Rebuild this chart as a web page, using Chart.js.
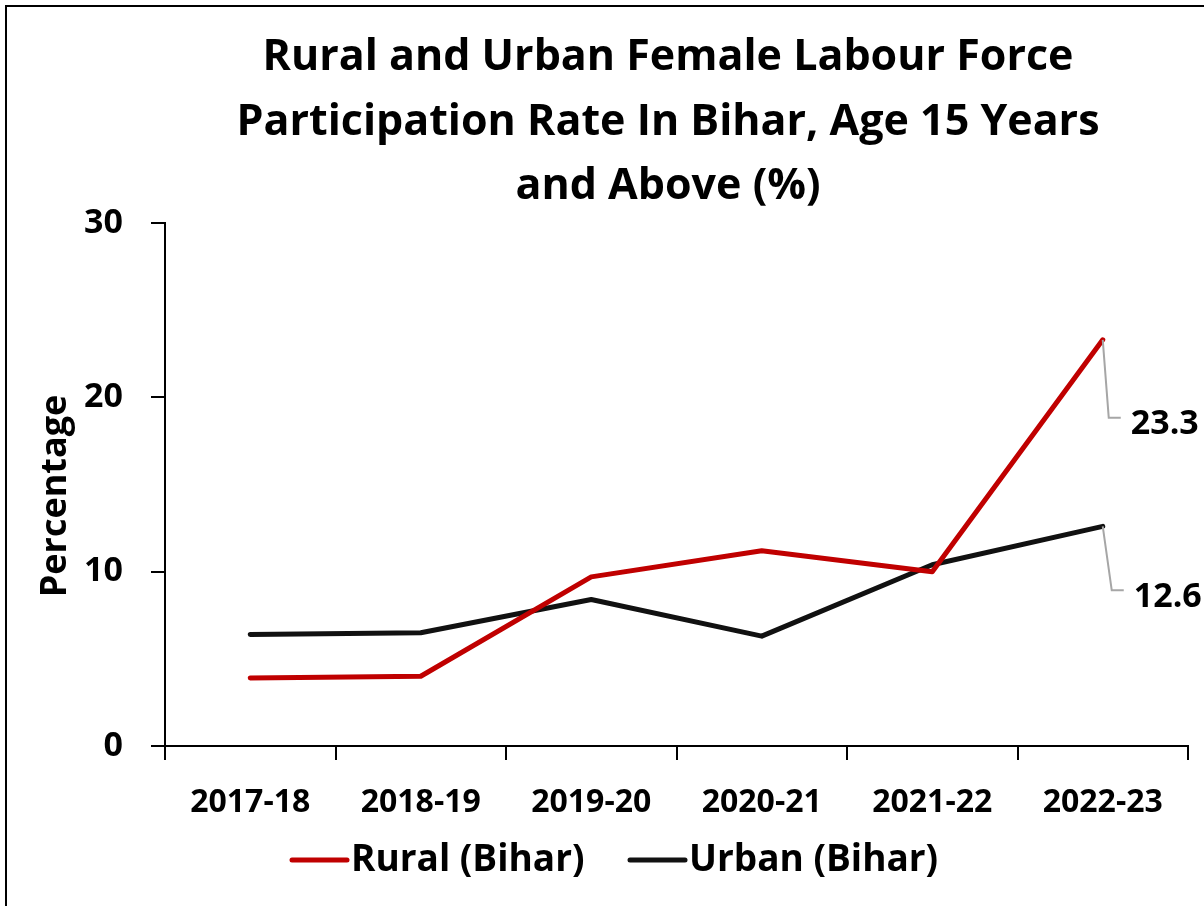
<!DOCTYPE html>
<html>
<head>
<meta charset="utf-8">
<script src="https://cdn.jsdelivr.net/npm/chart.js@4/dist/chart.umd.min.js"></script>
<style>
  html, body { margin: 0; padding: 0; background: #fff; overflow: hidden; }
  #wrap { width: 1204px; height: 906px; position: relative; }
</style>
</head>
<body>
<div id="wrap"><canvas id="c" width="1204" height="906"></canvas></div>
<script>
const categories = ["2017-18", "2018-19", "2019-20", "2020-21", "2021-22", "2022-23"];
const ruralValues = [3.9, 4.0, 9.7, 11.2, 10.0, 23.3];
const urbanValues = [6.4, 6.5, 8.4, 6.3, 10.4, 12.6];
const yTicks = [0, 10, 20, 30];
const titleLines = ["Rural and Urban Female Labour Force", "Participation Rate In Bihar, Age 15 Years", "and Above (%)"];
const seriesNames = ["Rural (Bihar)", "Urban (Bihar)"];
const yAxisTitle = "Percentage";

const FONT = "'Open Sans', Lato, sans-serif";
const RED = "#C00000";
const BLACK = "#111111";

const decorPlugin = {
  id: 'decor',
  afterDraw(chart) {
    const ctx = chart.ctx;
    ctx.save();
    // outer frame (left & top visible)
    ctx.strokeStyle = "#000";
    ctx.lineWidth = 2;
    ctx.strokeRect(6, 6, 1400, 1200);

    // title
    ctx.fillStyle = "#000";
    ctx.font = "bold 43px " + FONT;
    ctx.textAlign = "center";
    ctx.textBaseline = "middle";
    const cx = 668;
    titleLines.forEach((t, i) => ctx.fillText(t, cx, 58 + i * 64.5));

    // data labels for last points with leader lines
    const offs = [{dx: 28, dy: 85}, {dx: 31, dy: 71}];
    chart.data.datasets.forEach((ds, di) => {
      const meta = chart.getDatasetMeta(di);
      const last = meta.data[meta.data.length - 1];
      const px = last.x, py = last.y;
      const lx = px + offs[di].dx, ly = py + offs[di].dy;
      ctx.strokeStyle = "#A6A6A6";
      ctx.lineWidth = 2;
      ctx.beginPath();
      ctx.moveTo(px, py);
      ctx.lineTo(px + offs[di].dx - 22, ly - 7);
      ctx.lineTo(px + offs[di].dx - 10, ly - 7);
      ctx.stroke();
      ctx.fillStyle = "#000";
      ctx.font = "bold 34px " + FONT;
      ctx.textAlign = "left";
      ctx.textBaseline = "middle";
      ctx.fillText(ds.data[ds.data.length - 1].toFixed(1), lx, ly);
    });

    // y axis title
    ctx.save();
    ctx.translate(56, 496);
    ctx.rotate(-Math.PI / 2);
    ctx.font = "bold 36px " + FONT;
    ctx.textAlign = "center";
    ctx.textBaseline = "middle";
    ctx.fillStyle = "#000";
    ctx.fillText(yAxisTitle, 0, 0);
    ctx.restore();

    // legend
    ctx.font = "bold 37px " + FONT;
    ctx.textBaseline = "middle";
    ctx.textAlign = "left";
    const ly = 860;
    const items = [{x: 292, color: RED, name: seriesNames[0]}, {x: 630, color: BLACK, name: seriesNames[1]}];
    items.forEach(it => {
      ctx.strokeStyle = it.color;
      ctx.lineWidth = 5;
      ctx.lineCap = "round";
      ctx.beginPath();
      ctx.moveTo(it.x, ly);
      ctx.lineTo(it.x + 55, ly);
      ctx.stroke();
      ctx.fillStyle = "#000";
      ctx.fillText(it.name, it.x + 59, ly);
    });
    ctx.restore();
  }
};

new Chart(document.getElementById('c'), {
  type: 'line',
  data: {
    labels: categories,
    datasets: [
      { label: seriesNames[0], data: ruralValues, borderColor: RED, backgroundColor: RED,
        borderWidth: 5, pointRadius: 0, tension: 0, borderCapStyle: 'round', borderJoinStyle: 'round' },
      { label: seriesNames[1], data: urbanValues, borderColor: BLACK, backgroundColor: BLACK,
        borderWidth: 5, pointRadius: 0, tension: 0, borderCapStyle: 'round', borderJoinStyle: 'round' }
    ]
  },
  options: {
    responsive: false,
    animation: false,
    devicePixelRatio: 1,
    layout: { padding: { left: 0, top: 223, right: 16, bottom: 0 } },
    plugins: { legend: { display: false }, title: { display: false }, tooltip: { enabled: false } },
    scales: {
      x: {
        offset: true,
        grid: { display: true, offset: true, drawOnChartArea: false, drawTicks: true, tickLength: 14, color: "#000", lineWidth: 2 },
        border: { display: true, color: "#000", width: 2 },
        ticks: { color: "#000", font: { family: FONT, size: 32, weight: 'bold' }, padding: 24, maxRotation: 0 },
        afterFit(scale) { scale.height = 160; }
      },
      y: {
        min: 0, max: 30,
        afterBuildTicks(scale) { scale.ticks = yTicks.map(v => ({ value: v })); },
        grid: { display: true, drawOnChartArea: false, drawTicks: true, tickLength: 14, color: "#000", lineWidth: 2 },
        border: { display: true, color: "#000", width: 2 },
        ticks: { color: "#000", font: { family: FONT, size: 34, weight: 'bold' }, padding: 28 },
        afterFit(scale) { scale.width = 165; }
      }
    }
  },
  plugins: [decorPlugin]
});
</script>
</body>
</html>
